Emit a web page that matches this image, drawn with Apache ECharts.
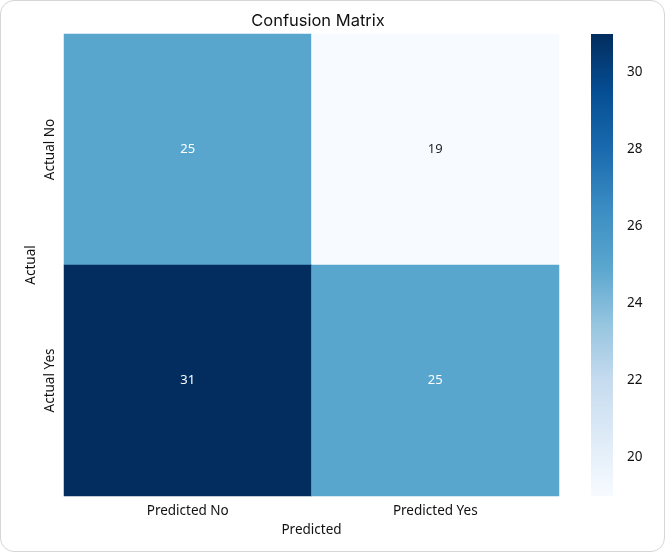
<!DOCTYPE html>
<html>
<head>
<meta charset="utf-8">
<script src="https://cdn.jsdelivr.net/npm/echarts@6/dist/echarts.min.js"></script>
<style>
  html, body { margin: 0; padding: 0; background: #fff; }
  #chart-container {
    width: 665px; height: 552px; box-sizing: border-box;
    border: 1px solid #d6d6d6; border-radius: 14px; overflow: hidden;
  }
</style>
</head>
<body>
<div id="chart-container"></div>
<script>
var predicted = ['Predicted No', 'Predicted Yes'];
var actual = ['Actual No', 'Actual Yes'];
// [predictedIndex, actualIndex, count]
var counts = [
  [0, 0, 25],
  [1, 0, 19],
  [0, 1, 31],
  [1, 1, 25]
];
var colorMin = 19;
var colorMax = 31;
var colorbarTicks = [20, 22, 24, 26, 28, 30];
var blues = ['#f7fbff', '#deebf7', '#c6dbef', '#94c4df', '#58a5ce', '#3a8cc2', '#1a6aae', '#064e94', '#022d5e'];

var dom = document.getElementById('chart-container');
var myChart = echarts.init(dom);
var option;

var font = 'Noto Sans';

option = {
  textStyle: { fontFamily: font },
  title: {
    text: 'Confusion Matrix',
    left: 312,
    top: 7,
    textAlign: 'center',
    textStyle: { fontSize: 16.5, fontWeight: 'normal', color: '#111', fontFamily: 'Inter' }
  },
  grid: [
    { left: 63, right: 105, top: 33, bottom: 55 },
    { left: 590, width: 22, top: 33, bottom: 55 }
  ],
  xAxis: [
    {
      type: 'category',
      gridIndex: 0,
      data: predicted,
      name: 'Predicted',
      nameLocation: 'middle',
      nameGap: 27,
      nameTextStyle: { fontSize: 13.5, color: '#111' },
      axisLine: { show: false },
      axisTick: { alignWithLabel: true, length: 4, lineStyle: { color: '#222' } },
      axisLabel: { fontSize: 13.5, color: '#111', margin: 8 },
      splitLine: { show: false }
    },
    {
      type: 'value',
      gridIndex: 1,
      min: 0,
      max: 1,
      show: false
    }
  ],
  yAxis: [
    {
      type: 'category',
      gridIndex: 0,
      data: actual,
      inverse: true,
      name: 'Actual',
      nameLocation: 'middle',
      nameGap: 26,
      nameMoveOverlap: false,
      nameRotate: 90,
      nameTextStyle: { fontSize: 13.5, color: '#111' },
      axisLine: { show: false },
      axisTick: { alignWithLabel: true, length: 4, lineStyle: { color: '#222' } },
      axisLabel: { fontSize: 13.5, color: '#111', rotate: 90, margin: 7 },
      splitLine: { show: false }
    },
    {
      type: 'value',
      gridIndex: 1,
      position: 'right',
      min: colorMin,
      max: colorMax,
      axisLine: { show: false },
      axisTick: { show: true, length: 4, customValues: colorbarTicks, lineStyle: { color: '#222' } },
      axisLabel: { fontSize: 13.5, color: '#111', margin: 14, customValues: colorbarTicks },
      splitLine: { show: false }
    }
  ],
  visualMap: {
    show: false,
    min: colorMin,
    max: colorMax,
    seriesIndex: 0,
    dimension: 2,
    inRange: { color: blues }
  },
  series: [
    {
      type: 'heatmap',
      xAxisIndex: 0,
      yAxisIndex: 0,
      data: counts,
      label: {
        show: true,
        fontSize: 13,
        fontFamily: font,
        formatter: function (p) { return p.value[2]; },
        color: '#fff'
      },
      emphasis: { disabled: true }
    },
    {
      type: 'custom',
      xAxisIndex: 1,
      yAxisIndex: 1,
      silent: true,
      data: [[0, colorMin, colorMax]],
      renderItem: function (params, api) {
        var top = api.coord([0, api.value(2)]);
        var bottom = api.coord([1, api.value(1)]);
        var stops = blues.slice().reverse().map(function (c, i) {
          return { offset: i / (blues.length - 1), color: c };
        });
        return {
          type: 'rect',
          shape: { x: top[0], y: top[1], width: bottom[0] - top[0], height: bottom[1] - top[1] },
          style: { fill: new echarts.graphic.LinearGradient(0, 0, 0, 1, stops) }
        };
      }
    }
  ]
};

// dark text on the light cells
option.series[0].data = counts.map(function (d) {
  var t = (d[2] - colorMin) / (colorMax - colorMin);
  return { value: d, label: { color: t < 0.4 ? '#262626' : '#fff' } };
});

if (option && typeof option === 'object') {
  myChart.setOption(option);
}

window.addEventListener('resize', myChart.resize);
</script>
</body>
</html>
